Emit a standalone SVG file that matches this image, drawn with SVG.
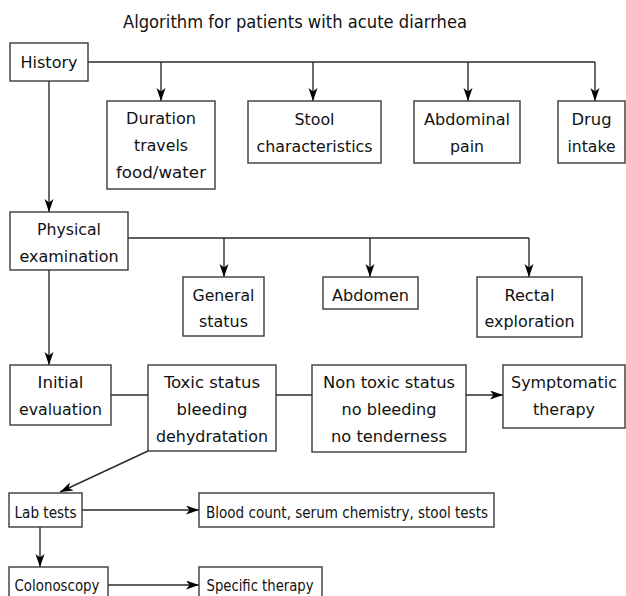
<svg xmlns="http://www.w3.org/2000/svg" width="626" height="596" viewBox="0 0 626 596">
<style>
text{font-family:"DejaVu Sans Condensed","DejaVu Sans","Liberation Sans",sans-serif;font-stretch:condensed;font-size:16.5px;fill:#111;text-anchor:middle}
.t{font-size:18.5px}
.box{fill:#fff;stroke:#3a3a3a;stroke-width:1.4}
.ln{fill:none;stroke:#2a2a2a;stroke-width:1.4}
.ar{fill:none;stroke:#2a2a2a;stroke-width:1.4;marker-end:url(#ah)}
</style>
<defs>
<marker id="ah" markerUnits="userSpaceOnUse" markerWidth="14" markerHeight="10" refX="13" refY="4.5" orient="auto">
<path d="M0,0 L13,4.5 L0,9 L3.5,4.5 z" fill="#000"/>
</marker>
</defs>
<rect width="626" height="596" fill="#fff"/>
<text class="t" x="295" y="28" textLength="344" lengthAdjust="spacingAndGlyphs">Algorithm for patients with acute diarrhea</text>
<g id="connectors">
<path class="ln" d="M88,62 H595"/>
<path class="ar" d="M161,62 V101"/>
<path class="ar" d="M313,62 V101"/>
<path class="ar" d="M468,62 V101"/>
<path class="ar" d="M595,62 V101"/>
<path class="ar" d="M49,81 V212"/>
<path class="ln" d="M128,238 H529"/>
<path class="ar" d="M224,238 V277"/>
<path class="ar" d="M370,238 V277"/>
<path class="ar" d="M529,238 V277"/>
<path class="ar" d="M49,270 V365"/>
<path class="ln" d="M111,395 H148"/>
<path class="ln" d="M276,395 H312"/>
<path class="ar" d="M466,395 H503"/>
<path class="ar" d="M148,451 L60,492"/>
<path class="ar" d="M82,510 H199"/>
<path class="ar" d="M40,527 V567"/>
<path class="ar" d="M108,585 H199"/>
</g>
<g id="history"><rect class="box" x="10" y="43" width="78" height="38"/><text x="49" y="68" textLength="57" lengthAdjust="spacingAndGlyphs">History</text></g>
<g id="duration"><rect class="box" x="107" y="101" width="108" height="88"/><text x="161" y="124" textLength="70" lengthAdjust="spacingAndGlyphs">Duration</text><text x="161" y="151" textLength="54" lengthAdjust="spacingAndGlyphs">travels</text><text x="161" y="178" textLength="90" lengthAdjust="spacingAndGlyphs">food/water</text></g>
<g id="stool"><rect class="box" x="248" y="101" width="133" height="62"/><text x="314.5" y="125" textLength="40" lengthAdjust="spacingAndGlyphs">Stool</text><text x="314.5" y="152" textLength="116" lengthAdjust="spacingAndGlyphs">characteristics</text></g>
<g id="abdominal"><rect class="box" x="414" y="101" width="106" height="62"/><text x="467" y="125" textLength="86" lengthAdjust="spacingAndGlyphs">Abdominal</text><text x="467" y="152" textLength="34" lengthAdjust="spacingAndGlyphs">pain</text></g>
<g id="drug"><rect class="box" x="558" y="101" width="67" height="62"/><text x="591.5" y="125" textLength="40" lengthAdjust="spacingAndGlyphs">Drug</text><text x="591.5" y="152" textLength="48" lengthAdjust="spacingAndGlyphs">intake</text></g>
<g id="physical"><rect class="box" x="10" y="212" width="118" height="58"/><text x="69" y="235" textLength="64" lengthAdjust="spacingAndGlyphs">Physical</text><text x="69" y="262" textLength="99" lengthAdjust="spacingAndGlyphs">examination</text></g>
<g id="general"><rect class="box" x="183" y="277" width="81" height="59"/><text x="223.5" y="301" textLength="62" lengthAdjust="spacingAndGlyphs">General</text><text x="223.5" y="327" textLength="49" lengthAdjust="spacingAndGlyphs">status</text></g>
<g id="abdomen"><rect class="box" x="323" y="277" width="95" height="32"/><text x="370.5" y="301" textLength="77" lengthAdjust="spacingAndGlyphs">Abdomen</text></g>
<g id="rectal"><rect class="box" x="477" y="277" width="105" height="60"/><text x="529.5" y="301" textLength="50" lengthAdjust="spacingAndGlyphs">Rectal</text><text x="529.5" y="327" textLength="90" lengthAdjust="spacingAndGlyphs">exploration</text></g>
<g id="initial"><rect class="box" x="10" y="365" width="101" height="60"/><text x="60.5" y="388" textLength="46" lengthAdjust="spacingAndGlyphs">Initial</text><text x="60.5" y="415" textLength="83" lengthAdjust="spacingAndGlyphs">evaluation</text></g>
<g id="toxic"><rect class="box" x="148" y="365" width="128" height="86"/><text x="212" y="388" textLength="96" lengthAdjust="spacingAndGlyphs">Toxic status</text><text x="212" y="415" textLength="71" lengthAdjust="spacingAndGlyphs">bleeding</text><text x="212" y="442" textLength="112" lengthAdjust="spacingAndGlyphs">dehydratation</text></g>
<g id="nontoxic"><rect class="box" x="312" y="365" width="154" height="87"/><text x="389" y="388" textLength="132" lengthAdjust="spacingAndGlyphs">Non toxic status</text><text x="389" y="415" textLength="95" lengthAdjust="spacingAndGlyphs">no bleeding</text><text x="389" y="442" textLength="116" lengthAdjust="spacingAndGlyphs">no tenderness</text></g>
<g id="symptomatic"><rect class="box" x="503" y="365" width="122" height="63"/><text x="564" y="388" textLength="106" lengthAdjust="spacingAndGlyphs">Symptomatic</text><text x="564" y="415" textLength="62" lengthAdjust="spacingAndGlyphs">therapy</text></g>
<g id="labtests"><rect class="box" x="9" y="493" width="73" height="34"/><text x="45.5" y="518" textLength="62" lengthAdjust="spacingAndGlyphs">Lab tests</text></g>
<g id="blood"><rect class="box" x="199" y="493" width="295" height="34"/><text x="347" y="518" textLength="282" lengthAdjust="spacingAndGlyphs">Blood count, serum chemistry, stool tests</text></g>
<g id="colonoscopy"><rect class="box" x="9" y="567" width="99" height="36"/><text x="57" y="591" textLength="85" lengthAdjust="spacingAndGlyphs">Colonoscopy</text></g>
<g id="specific"><rect class="box" x="199" y="567" width="123" height="36"/><text x="260" y="591" textLength="107" lengthAdjust="spacingAndGlyphs">Specific therapy</text></g>
</svg>
